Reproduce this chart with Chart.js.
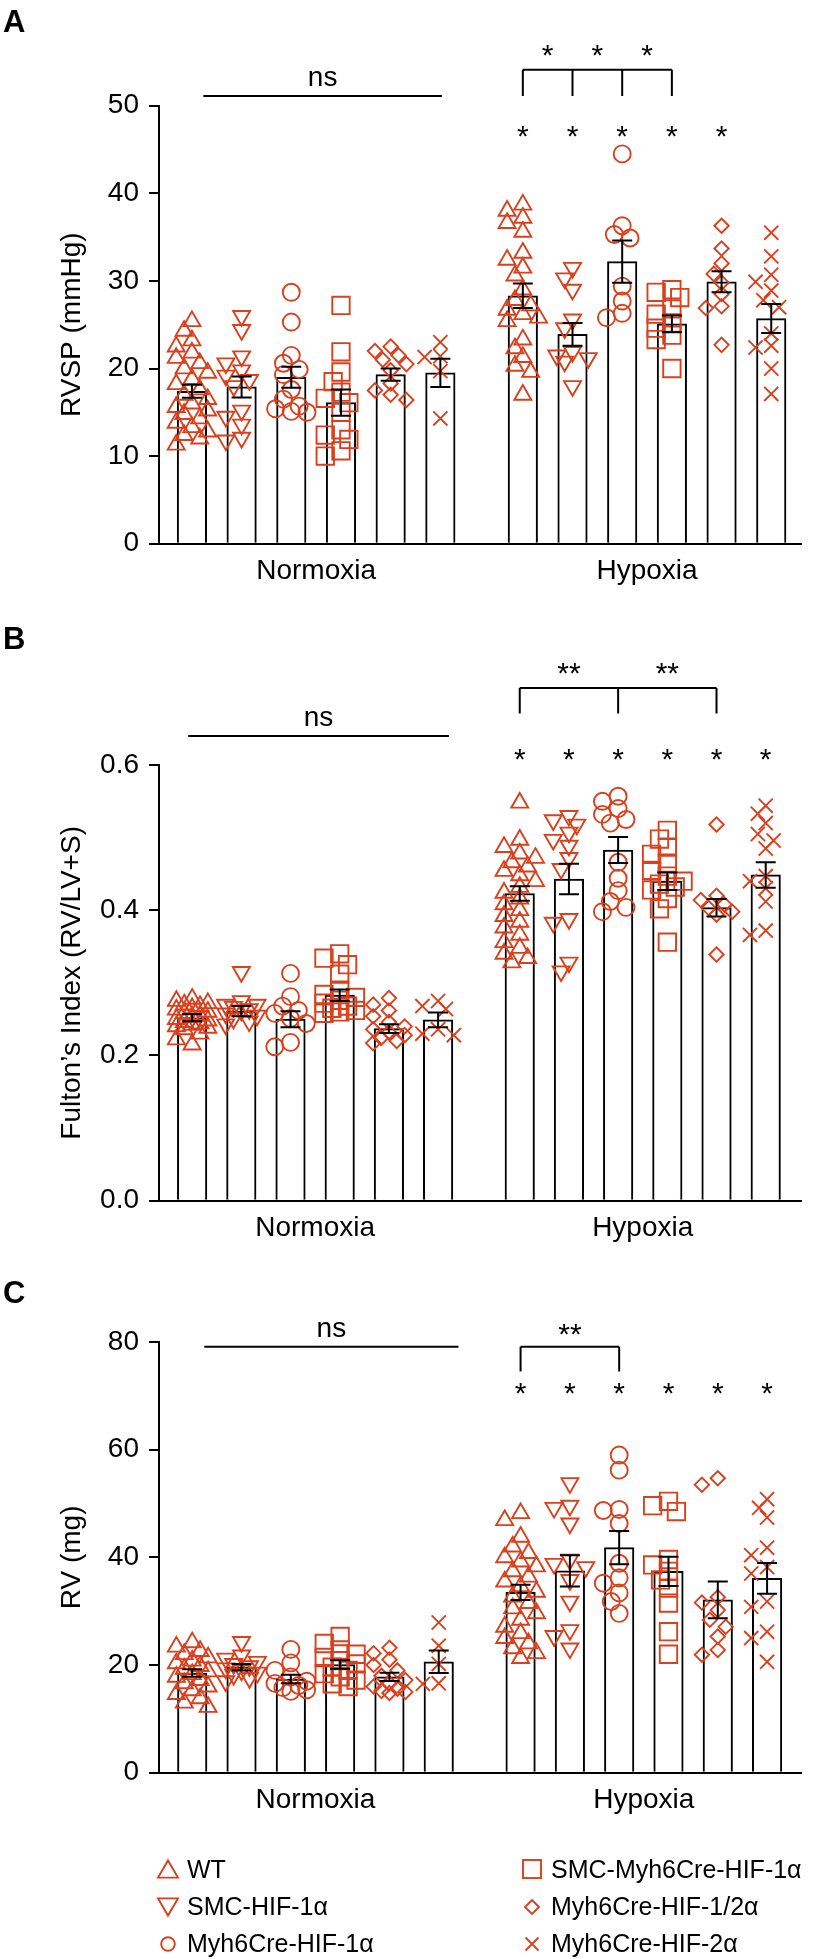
<!DOCTYPE html>
<html>
<head>
<meta charset="utf-8">
<script src="https://cdn.jsdelivr.net/npm/chart.js@4.4.1/dist/chart.umd.min.js"></script>
<style>
  html, body { margin: 0; padding: 0; background: #fff; }
  body { width: 816px; height: 1959px; position: relative; overflow: hidden;
         font-family: "Liberation Sans", Arial, Helvetica, sans-serif; }
  canvas { position: absolute; left: 0; }
  #chartA { top: 0; }
  #chartB { top: 600px; }
  #chartC { top: 1250px; }
  #legend { position: absolute; left: 0; top: 0; width: 816px; height: 1959px; pointer-events: none; }
  .item { position: absolute; display: flex; align-items: center; height: 24px;
          font-size: 25px; color: #000; white-space: nowrap; }
  .item svg { width: 24px; height: 24px; margin-right: 7px; flex: none; }
</style>
</head>
<body>
<canvas id="chartA" width="816" height="600"></canvas>
<canvas id="chartB" width="816" height="650"></canvas>
<canvas id="chartC" width="816" height="580"></canvas>
<div id="legend"></div>

<script>
const FONT = '"Liberation Sans", Arial, Helvetica, sans-serif';
const RED = '#d9401e';

const groups = ['Normoxia', 'Hypoxia'];
const strains = ['WT', 'SMC-HIF-1α', 'Myh6Cre-HIF-1α', 'SMC-Myh6Cre-HIF-1α', 'Myh6Cre-HIF-1/2α', 'Myh6Cre-HIF-2α'];

// ---- A: RVSP (mmHg) ----
const rvspTicks = [0, 10, 20, 30, 40, 50];
const rvspMean = [17.4, 17.9, 19.0, 16.1, 19.3, 19.5, 28.3, 23.9, 32.2, 25.1, 29.9, 25.7];
const rvspSem = [0.75, 1.2, 1.2, 1.5, 0.7, 1.6, 1.4, 1.3, 2.4, 0.95, 1.2, 1.65];
const rvspNormoxia = [
  [25.4, 24.3, 23.2, 22.5, 21.8, 21.2, 20.6, 20.0, 19.5, 18.8, 18.2, 17.6, 17.0, 16.5, 16.0, 15.6, 15.2, 14.8, 14.3, 13.8, 13.3, 12.8, 12.4, 12.0, 11.3],
  [26.0, 24.4, 21.4, 20.6, 19.8, 19.2, 18.7, 18.0, 15.2, 14.5, 13.6, 12.1, 11.8],
  [28.7, 25.3, 21.5, 20.6, 19.9, 19.3, 17.6, 16.5, 15.7, 15.4, 15.1, 15.0],
  [27.2, 21.9, 19.6, 18.5, 17.3, 16.6, 16.1, 15.0, 13.0, 12.4, 11.9, 10.6, 10.0],
  [22.5, 22.0, 21.5, 21.0, 20.5, 19.8, 18.3, 17.5, 17.0, 16.4],
  [23.0, 21.4, 21.3, 19.7, 14.3]
];
const rvspHypoxia = [
  [38.7, 38.0, 37.2, 36.6, 35.6, 33.2, 32.4, 31.5, 30.6, 29.0, 27.8, 27.2, 26.7, 26.2, 25.8, 25.4, 23.3, 22.3, 21.3, 20.3, 19.6, 17.0],
  [31.5, 30.3, 29.0, 25.6, 24.6, 21.9, 21.5, 21.2, 20.8, 18.0],
  [44.5, 36.3, 35.3, 34.9, 29.4, 27.7, 26.3, 25.8],
  [29.0, 28.7, 28.1, 26.8, 26.2, 25.2, 24.6, 23.8, 23.3, 20.0],
  [36.3, 33.7, 32.0, 30.8, 29.8, 28.5, 27.1, 26.9, 22.7],
  [35.5, 32.8, 30.7, 29.9, 28.9, 27.8, 27.0, 24.0, 22.6, 22.4, 20.0, 17.1]
];
// ns line [from slot, to slot, y]; bracket [hypoxia tips, low, high, mark, mark y]; stars [hypoxia slots, y]
const rvspNs = [0.23, 5.03, 51.1];
const rvspBracket = [[0, 1, 2, 3], 51.1, 54.1, '*', 56.3];
const rvspStars = [[0, 1, 2, 3, 4], 47.1];

// ---- B: Fulton's index ----
const fultonTicks = [0, 0.2, 0.4, 0.6];
const fultonMean = [0.252, 0.261, 0.250, 0.283, 0.237, 0.249, 0.423, 0.443, 0.483, 0.440, 0.4035, 0.4486];
const fultonSem = [0.005, 0.007, 0.011, 0.008, 0.006, 0.010, 0.010, 0.021, 0.018, 0.012, 0.012, 0.0175];
const fultonNormoxia = [
  [0.278, 0.275, 0.272, 0.270, 0.268, 0.265, 0.263, 0.260, 0.258, 0.255, 0.253, 0.250, 0.248, 0.246, 0.244, 0.242, 0.240, 0.238, 0.236, 0.230, 0.222, 0.215],
  [0.315, 0.275, 0.270, 0.270, 0.267, 0.264, 0.262, 0.258, 0.255, 0.251, 0.247, 0.243],
  [0.313, 0.281, 0.268, 0.262, 0.258, 0.251, 0.244, 0.218, 0.212],
  [0.340, 0.334, 0.325, 0.312, 0.290, 0.284, 0.280, 0.276, 0.272, 0.268, 0.265, 0.262, 0.260, 0.258],
  [0.279, 0.270, 0.262, 0.254, 0.246, 0.240, 0.236, 0.232, 0.228, 0.224, 0.220, 0.217],
  [0.275, 0.268, 0.264, 0.236, 0.230, 0.228]
];
const fultonHypoxia = [
  [0.548, 0.497, 0.487, 0.478, 0.472, 0.466, 0.460, 0.454, 0.448, 0.440, 0.432, 0.424, 0.416, 0.408, 0.400, 0.392, 0.384, 0.376, 0.366, 0.356, 0.348, 0.340, 0.334, 0.328],
  [0.530, 0.524, 0.518, 0.507, 0.497, 0.489, 0.472, 0.457, 0.388, 0.383, 0.328, 0.316],
  [0.557, 0.550, 0.540, 0.532, 0.525, 0.520, 0.466, 0.444, 0.427, 0.412, 0.404, 0.398],
  [0.510, 0.498, 0.487, 0.477, 0.465, 0.455, 0.447, 0.440, 0.436, 0.432, 0.428, 0.416, 0.402, 0.356],
  [0.518, 0.420, 0.414, 0.408, 0.403, 0.398, 0.394, 0.339],
  [0.544, 0.533, 0.520, 0.505, 0.496, 0.485, 0.447, 0.440, 0.430, 0.412, 0.372, 0.366]
];
const fultonNs = [-0.08, 5.22, 0.640];
const fultonBracket = [[0, 2, 4], 0.671, 0.706, '**', 0.7335];
const fultonStars = [[0, 1, 2, 3, 4, 5], 0.615];

// ---- C: RV (mg) ----
const rvTicks = [0, 20, 40, 60, 80];
const rvMean = [18.5, 19.6, 17.4, 20.1, 17.8, 20.6, 33.5, 37.5, 41.8, 37.4, 32.1, 36.1];
const rvSem = [0.7, 0.6, 0.8, 0.8, 0.75, 2.1, 1.4, 2.9, 3.1, 2.7, 3.4, 2.85];
const rvNormoxia = [
  [24.2, 23.4, 22.6, 22.0, 21.4, 20.8, 20.3, 19.8, 19.3, 18.8, 18.3, 17.8, 17.2, 16.6, 16.0, 15.3, 14.6, 13.8, 13.0, 12.2],
  [24.3, 21.8, 21.2, 20.6, 20.2, 19.8, 19.4, 19.0, 18.6, 18.2, 17.6, 17.0],
  [22.9, 20.4, 19.0, 17.8, 17.0, 16.6, 16.2, 15.8, 15.4, 15.1],
  [25.3, 24.0, 22.8, 22.0, 21.4, 20.8, 20.2, 19.6, 19.0, 18.4, 17.8, 17.2, 16.5, 16.0],
  [23.2, 22.2, 21.0, 20.0, 19.0, 18.0, 17.2, 16.6, 16.0, 15.6, 15.2, 15.0, 14.8],
  [27.9, 23.6, 20.2, 16.6, 16.5]
];
const rvHypoxia = [
  [48.2, 46.9, 43.8, 42.0, 40.8, 40.0, 39.2, 38.3, 37.4, 36.4, 35.5, 34.6, 33.6, 32.7, 31.5, 30.5, 29.6, 28.4, 27.1, 25.9, 25.0, 24.0, 23.1, 22.2, 21.3],
  [53.8, 49.6, 49.2, 46.3, 39.6, 38.8, 38.2, 35.8, 31.8, 26.5, 25.4, 23.1],
  [59.0, 56.2, 48.9, 48.7, 46.3, 38.9, 36.2, 35.2, 33.4, 31.8, 29.6],
  [50.4, 49.6, 48.5, 39.6, 38.6, 37.4, 35.8, 34.3, 31.5, 26.2, 22.0],
  [54.7, 53.5, 32.6, 31.6, 30.2, 28.4, 27.1, 25.3, 22.8, 21.9],
  [50.8, 49.2, 47.4, 41.8, 40.4, 38.2, 37.0, 31.8, 30.8, 26.2, 25.0, 20.6]
];
const rvNs = [0.245, 5.40, 79.1];
const rvBracket = [[0, 2], 74.5, 79.1, '**', 82.4];
const rvStars = [[0, 1, 2, 3, 4, 5], 71.4];

// marker styles per strain
const shapes = ['triangle', 'triangle', 'circle', 'rect', 'rectRot', 'crossRot'];
const rotations = [0, 180, 0, 0, 0, 0];
const radii = [9.8, 9.8, 8.5, 12.3, 7.2, 10];

// slot k: 0-5 normoxia, 6-11 hypoxia (gap between the two groups)
const GAP = 1.66;
const slotX = k => k < 6 ? k : k - 1 + GAP;

// spread points sideways so they don't pile on each other
function swarm(vals, pxY, pxX) {
  const placed = [];
  const offs = new Array(vals.length).fill(0);
  const idx = vals.map((v, i) => i).sort((a, b) => vals[b] - vals[a]);
  idx.forEach(i => {
    const py = vals[i] * pxY;
    let best = 0, bestGap = -1;
    for (const k of [0, -1, 1, -2, 2]) {
      const px = k * 8;
      const gap = placed.reduce((g, p) => Math.min(g, Math.hypot(p[0] - px, p[1] - py)), Infinity);
      if (gap >= 11) { best = px; break; }
      if (gap > bestGap) { bestGap = gap; best = px; }
    }
    placed.push([best, py]);
    offs[i] = best / pxX;
  });
  return offs;
}

function drawMark(ctx, text, cx, cy) {
  ctx.font = '30px ' + FONT;
  ctx.textAlign = 'center';
  ctx.textBaseline = 'alphabetic';
  const m = ctx.measureText(text);
  ctx.fillText(text, cx, cy + (m.actualBoundingBoxAscent - m.actualBoundingBoxDescent) / 2);
}

function decor(p) {
  return {
    id: 'decor',
    afterDatasetsDraw(chart) {
      const { ctx, scales: { x, y } } = chart;
      const px = k => x.getPixelForValue(slotX(k));
      ctx.save();
      ctx.strokeStyle = '#000';
      ctx.fillStyle = '#000';
      ctx.lineWidth = 2;

      // mean +/- SEM
      p.mean.forEach((m, k) => {
        const cx = px(k);
        const t = y.getPixelForValue(m + p.sem[k]);
        const b = y.getPixelForValue(m - p.sem[k]);
        ctx.beginPath();
        ctx.moveTo(cx, t); ctx.lineTo(cx, b);
        ctx.moveTo(cx - 10, t); ctx.lineTo(cx + 10, t);
        ctx.moveTo(cx - 10, b); ctx.lineTo(cx + 10, b);
        ctx.stroke();
      });

      // ns over normoxia
      const [n0, n1, ny] = p.ns;
      const nyPx = y.getPixelForValue(ny);
      ctx.beginPath();
      ctx.moveTo(x.getPixelForValue(n0), nyPx);
      ctx.lineTo(x.getPixelForValue(n1), nyPx);
      ctx.stroke();
      ctx.font = '28px ' + FONT;
      ctx.textAlign = 'center';
      ctx.textBaseline = 'alphabetic';
      ctx.fillText('ns', x.getPixelForValue((n0 + n1) / 2), nyPx - 10);

      // bracket between hypoxia groups
      const [tips, lo, hi, mark, markY] = p.bracket;
      const tipX = tips.map(i => px(6 + i));
      const loPx = y.getPixelForValue(lo), hiPx = y.getPixelForValue(hi);
      ctx.beginPath();
      ctx.moveTo(tipX[0], hiPx);
      ctx.lineTo(tipX[tipX.length - 1], hiPx);
      tipX.forEach(t => { ctx.moveTo(t, hiPx); ctx.lineTo(t, loPx); });
      ctx.stroke();
      for (let i = 1; i < tipX.length; i++) {
        drawMark(ctx, mark, (tipX[i - 1] + tipX[i]) / 2, y.getPixelForValue(markY));
      }

      // hypoxia vs normoxia
      p.stars[0].forEach(i => drawMark(ctx, '*', px(6 + i), y.getPixelForValue(p.stars[1])));
      ctx.restore();
    },
    afterDraw(chart) {
      const { ctx, chartArea: a, scales: { x } } = chart;
      const px = k => x.getPixelForValue(slotX(k));
      ctx.save();
      ctx.fillStyle = '#000';
      ctx.textBaseline = 'alphabetic';
      ctx.font = 'bold 31px ' + FONT;
      ctx.textAlign = 'left';
      ctx.fillText(p.letter, 3, p.letterY);

      ctx.font = '28px ' + FONT;
      ctx.textAlign = 'center';
      groups.forEach((g, gi) => ctx.fillText(g, (px(gi * 6) + px(gi * 6 + 5)) / 2, a.bottom + 35));

      ctx.translate(80, (a.top + a.bottom) / 2);
      ctx.rotate(-Math.PI / 2);
      ctx.fillText(p.title, 0, 0);
      ctx.restore();
    }
  };
}

function makeChart(p) {
  const b = p.box;
  const left = 159;
  const axisW = 70;
  const xMin = -(b.firstBar - left) / b.spacing;
  const xMax = xMin + (b.right - left) / b.spacing;
  const yMax = p.ticks[p.ticks.length - 1];
  const pxY = (b.bottom - b.top) / yMax;

  const bars = {
    type: 'bar',
    data: p.mean.map((m, k) => ({ x: slotX(k), y: m })),
    backgroundColor: '#fff',
    borderColor: '#000',
    borderWidth: 2,
    barThickness: 29.5,
    order: 2
  };

  const points = strains.map((name, s) => {
    const data = [];
    [p.normoxia[s], p.hypoxia[s]].forEach((vals, g) => {
      const offs = swarm(vals, pxY, b.spacing);
      vals.forEach((v, j) => data.push({ x: slotX(g * 6 + s) + offs[j], y: v }));
    });
    return {
      type: 'scatter',
      label: name,
      data,
      order: 1,
      showLine: false,
      borderColor: RED,
      backgroundColor: 'rgba(0,0,0,0)',
      pointStyle: shapes[s],
      pointRotation: rotations[s],
      pointRadius: radii[s],
      pointBorderColor: RED,
      pointBackgroundColor: 'rgba(0,0,0,0)',
      pointBorderWidth: 1.9
    };
  });

  return new Chart(document.getElementById(p.id), {
    type: 'bar',
    data: { datasets: [bars, ...points] },
    options: {
      responsive: false,
      animation: false,
      events: [],
      layout: { padding: { left: left - axisW, right: 816 - b.right, top: b.top, bottom: b.height - b.bottom } },
      plugins: { legend: { display: false }, tooltip: { enabled: false } },
      scales: {
        x: {
          type: 'linear',
          min: xMin,
          max: xMax,
          offset: false,
          grid: { display: false },
          ticks: { display: false },
          border: { display: true, color: '#000', width: 2 },
          afterFit: s => { s.height = 0; }
        },
        y: {
          type: 'linear',
          min: p.ticks[0],
          max: yMax,
          afterBuildTicks: s => { s.ticks = p.ticks.map(v => ({ value: v })); },
          grid: { display: true, drawOnChartArea: false, drawTicks: true, tickLength: 10, color: '#000', lineWidth: 2 },
          border: { display: true, color: '#000', width: 2 },
          ticks: { color: '#000', padding: 10, font: { family: FONT, size: 28 }, callback: v => v.toFixed(p.digits) },
          afterFit: s => { s.width = axisW; }
        }
      }
    },
    plugins: [decor(p)]
  });
}

makeChart({
  id: 'chartA', letter: 'A', letterY: 32, title: 'RVSP (mmHg)', digits: 0,
  ticks: rvspTicks, mean: rvspMean, sem: rvspSem, normoxia: rvspNormoxia, hypoxia: rvspHypoxia,
  ns: rvspNs, bracket: rvspBracket, stars: rvspStars,
  box: { height: 600, top: 105.7, bottom: 543.7, right: 813, firstBar: 192.5, spacing: 50.55 }
});
makeChart({
  id: 'chartB', letter: 'B', letterY: 48.6, title: 'Fulton’s Index (RV/LV+S)', digits: 1,
  ticks: fultonTicks, mean: fultonMean, sem: fultonSem, normoxia: fultonNormoxia, hypoxia: fultonHypoxia,
  ns: fultonNs, bracket: fultonBracket, stars: fultonStars,
  box: { height: 650, top: 165, bottom: 600.7, right: 813, firstBar: 192.7, spacing: 50.05 }
});
makeChart({
  id: 'chartC', letter: 'C', letterY: 53, title: 'RV (mg)', digits: 0,
  ticks: rvTicks, mean: rvMean, sem: rvSem, normoxia: rvNormoxia, hypoxia: rvHypoxia,
  ns: rvNs, bracket: rvBracket, stars: rvStars,
  box: { height: 580, top: 92, bottom: 522.7, right: 807, firstBar: 192.5, spacing: 49.7 }
});

// legend: two columns of three
const legendIcons = [
  '<polygon points="12,3.4 22,20.6 2,20.6"/>',
  '<polygon points="2,3.4 22,3.4 12,20.6"/>',
  '<circle cx="12" cy="12" r="6.8"/>',
  '<rect x="3" y="3" width="18" height="18"/>',
  '<polygon points="12,5 19,12 12,19 5,12"/>',
  '<path d="M5.5 5.5L18.5 18.5M18.5 5.5L5.5 18.5"/>'
];
const legendCols = [168, 532];
const legendRows = [1869, 1906.5, 1943.5];
const legend = document.getElementById('legend');
strains.forEach((name, s) => {
  const el = document.createElement('div');
  el.className = 'item';
  el.style.left = (legendCols[Math.floor(s / 3)] - 12) + 'px';
  el.style.top = (legendRows[s % 3] - 12) + 'px';
  el.innerHTML = '<svg viewBox="0 0 24 24" fill="none" stroke="' + RED + '" stroke-width="1.9">' +
    legendIcons[s] + '</svg><span>' + name + '</span>';
  legend.appendChild(el);
});
</script>
</body>
</html>
